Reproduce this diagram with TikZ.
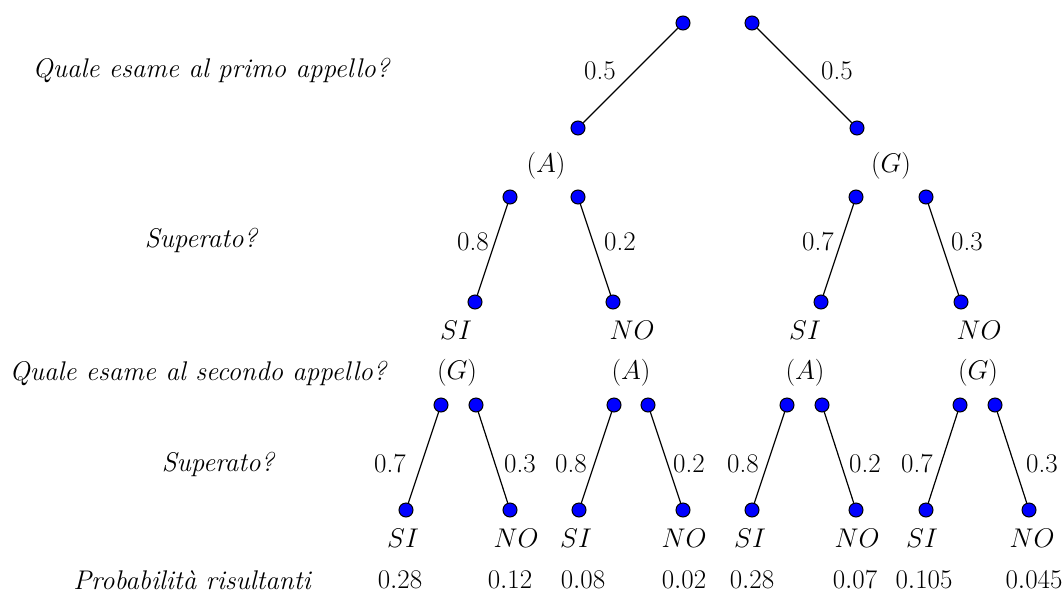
\RequirePackage{fix-cm}
\documentclass[tikz,border=0pt]{standalone}
\begin{document}
\begin{tikzpicture}[x=1pt,y=-1pt,
  every node/.style={font=\fontsize{27}{32}\selectfont, inner sep=0pt},
  dot/.style={circle, draw=black, fill=blue, line width=1pt, minimum size=14pt, inner sep=0pt},
  edgeline/.style={line width=1.2pt, black},
  q/.style={font=\fontsize{27}{32}\selectfont\itshape}]
\useasboundingbox (0,0) rectangle (1063,592);
% level 1
\node[dot] (t1) at (683,23) {};
\node[dot] (t2) at (752,23) {};
\node[dot] (b1) at (578,128) {};
\node[dot] (b2) at (857,128) {};
\draw[edgeline] (t1) -- (b1);
\draw[edgeline] (t2) -- (b2);
\node (p1) at (600,71) {0.5};
\node (p2) at (837,71) {0.5};
\node (lA) at (546,166) {$(A)$};
\node (lG) at (891,166) {$(G)$};
% level 2
\node[dot] (a1) at (510,197) {};
\node[dot] (a2) at (578,197) {};
\node[dot] (a3) at (475,302) {};
\node[dot] (a4) at (613,302) {};
\draw[edgeline] (a1) -- (a3);
\draw[edgeline] (a2) -- (a4);
\node[dot] (g1) at (856,197) {};
\node[dot] (g2) at (926,197) {};
\node[dot] (g3) at (821,302) {};
\node[dot] (g4) at (961,302) {};
\draw[edgeline] (g1) -- (g3);
\draw[edgeline] (g2) -- (g4);
\node (pa1) at (473,242) {0.8};
\node (pa2) at (620,242) {0.2};
\node (pg1) at (818,242) {0.7};
\node (pg2) at (967,242) {0.3};
\node (sa) at (456,330) {$SI$};
\node (na) at (632,330) {$NO$};
\node (sg) at (805,330) {$SI$};
\node (ng) at (979,330) {$NO$};
\node (l2a) at (457,373) {$(G)$};
\node (l2b) at (631,373) {$(A)$};
\node (l2c) at (805,373) {$(A)$};
\node (l2d) at (978,373) {$(G)$};
% level 4
\foreach \n/\xa/\xb/\xc/\xd in {1/441/476/406/510, 2/614/648/579/683, 3/787/822/752/856, 4/960/995/926/1029}{
  \node[dot] (u\n a) at (\xa,405) {};
  \node[dot] (u\n b) at (\xb,405) {};
  \node[dot] (v\n a) at (\xc,510) {};
  \node[dot] (v\n b) at (\xd,510) {};
  \draw[edgeline] (u\n a) -- (v\n a);
  \draw[edgeline] (u\n b) -- (v\n b);
}
\node (q1) at (390,464) {0.7};
\node (q2) at (520,464) {0.3};
\node (q3) at (571,464) {0.8};
\node (q4) at (689,464) {0.2};
\node (q5) at (743,464) {0.8};
\node (q6) at (865,464) {0.2};
\node (q7) at (917,464) {0.7};
\node (q8) at (1042,464) {0.3};
\node (s1) at (403,538) {$SI$};
\node (n1) at (516,538) {$NO$};
\node (s2) at (576,538) {$SI$};
\node (n2) at (684,538) {$NO$};
\node (s3) at (750,538) {$SI$};
\node (n3) at (857,538) {$NO$};
\node (s4) at (922,538) {$SI$};
\node (n4) at (1032,538) {$NO$};
\node (r1) at (400,580) {$0.28$};
\node (r2) at (510,580) {$0.12$};
\node (r3) at (583,580) {$0.08$};
\node (r4) at (684,580) {$0.02$};
\node (r5) at (752,580) {$0.28$};
\node (r6) at (855,580) {$0.07$};
\node (r7) at (924,580) {$0.105$};
\node (r8) at (1034,580) {$0.045$};
% left questions
\node[q] (Q1) at (211,70) {Quale esame al primo appello?};
\node[q] (Q2) at (201,240) {Superato?};
\node[q] (Q3) at (198,373) {Quale esame al secondo appello?};
\node[q] (Q4) at (218,464) {Superato?};
\node[q] (Q5) at (192,580) {Probabilità risultanti};
\end{tikzpicture}
\end{document}
